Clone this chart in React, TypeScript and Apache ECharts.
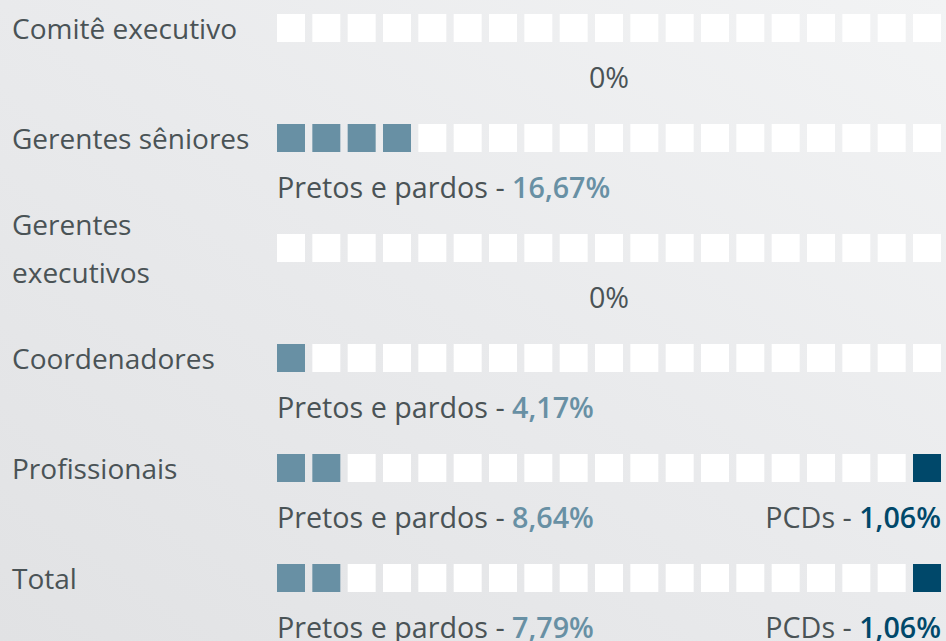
import React, { useEffect, useRef } from "react";
import * as echarts from "echarts";

const rowLabels = [
  "Comitê executivo",
  "Gerentes sêniores",
  "Gerentes\nexecutivos",
  "Coordenadores",
  "Profissionais",
  "Total",
];
const totalSquares = 19;
const pretosSquares = [0, 4, 0, 1, 2, 2];
const pcdSquares = [0, 0, 0, 0, 1, 1];
const pretosText = ["0%", "16,67%", "0%", "4,17%", "8,64%", "7,79%"];
const pcdText = ["", "", "", "", "1,06%", "1,06%"];

const FONT = "'Open Sans', 'Noto Sans', sans-serif";
const FS = 28;
const FS2 = 28.7;
const TEXT = "#4a5356";
const BLUE = "#6890a4";
const NAVY = "#00486a";

export default function App() {
  const ref = useRef<HTMLDivElement>(null);
  useEffect(() => {
    document.body.style.margin = "0";
    const chart = echarts.init(ref.current!, null, { renderer: "svg" });

    const emptyData: any[] = [];
    const blueData: any[] = [];
    const navyData: any[] = [];
    rowLabels.forEach((_, r) => {
      for (let i = 0; i < totalSquares; i++) {
        if (i < pretosSquares[r]) blueData.push([i, r]);
        else if (i >= totalSquares - pcdSquares[r]) navyData.push([i, r]);
        else emptyData.push([i, r]);
      }
    });

    const leftTexts: any[] = [];
    const centerTexts: any[] = [];
    const rightTexts: any[] = [];
    rowLabels.forEach((_, r) => {
      if (pretosSquares[r] === 0 && pcdSquares[r] === 0) {
        centerTexts.push({ value: [(totalSquares - 1) / 2, r], t: pretosText[r] });
      } else {
        leftTexts.push({ value: [0, r], t: pretosText[r] });
      }
      if (pcdText[r]) rightTexts.push({ value: [totalSquares - 1, r], t: pcdText[r] });
    });

    const sq = (name: string, data: any[], color: string) => ({
      type: "scatter",
      name,
      data,
      symbol: "rect",
      symbolSize: 28,
      itemStyle: { color, opacity: 1 },
      emphasis: { disabled: true },
      silent: true,
    });

    const txt = (data: any[], align: string, dx: number, fmt: (d: any) => string) => ({
      type: "scatter",
      data,
      symbol: "rect",
      symbolSize: 28,
      itemStyle: { color: "transparent", opacity: 1 },
      emphasis: { disabled: true },
      silent: true,
      z: 5,
      label: {
        show: true,
        position: "inside",
        align,
        verticalAlign: "middle",
        offset: [dx, 48],
        opacity: 1,
        formatter: (p: any) => fmt(p.data),
        rich: {
          a: { fontFamily: FONT, fontSize: FS2, color: TEXT },
          b: { fontFamily: FONT, fontSize: FS2, color: BLUE, fontWeight: 600 },
          c: { fontFamily: FONT, fontSize: FS2, color: NAVY, fontWeight: 600 },
          z: { fontFamily: FONT, fontSize: FS2, color: TEXT },
        },
      },
    });

    chart.setOption({
      animation: false,
      backgroundColor: {
        type: "linear",
        x: 0,
        y: 1,
        x2: 1,
        y2: 0,
        colorStops: [
          { offset: 0, color: "#e1e2e4" },
          { offset: 0.5, color: "#e9eaec" },
          { offset: 1, color: "#f2f3f4" },
        ],
      },
      grid: { left: 291, right: 19, top: 28, bottom: 63 },
      xAxis: {
        type: "value",
        min: 0,
        max: totalSquares - 1,
        show: false,
      },
      yAxis: {
        type: "value",
        min: 0,
        max: rowLabels.length - 1,
        interval: 1,
        inverse: true,
        axisLine: { show: false },
        axisTick: { show: false },
        splitLine: { show: false },
        axisLabel: {
          formatter: (v: number) => rowLabels[v] ?? "",
          align: "left",
          verticalAlign: "middle",
          margin: 279,
          color: TEXT,
          fontFamily: FONT,
          fontSize: FS,
          lineHeight: 48,
        },
      },
      series: [
        sq("empty", emptyData, "#ffffff"),
        sq("pretos", blueData, BLUE),
        sq("pcd", navyData, NAVY),
        txt(leftTexts, "left", -14, (d) => `{a|Pretos e pardos - }{b|${d.t}}`),
        txt(centerTexts, "center", 0, (d) => `{z|${d.t}}`),
        txt(rightTexts, "right", 14, (d) => `{a|PCDs - }{c|${d.t}}`),
      ],
    });
    return () => chart.dispose();
  }, []);
  return <div ref={ref} style={{ width: 946, height: 641, position: "fixed", left: 0, top: 0 }} />;
}
